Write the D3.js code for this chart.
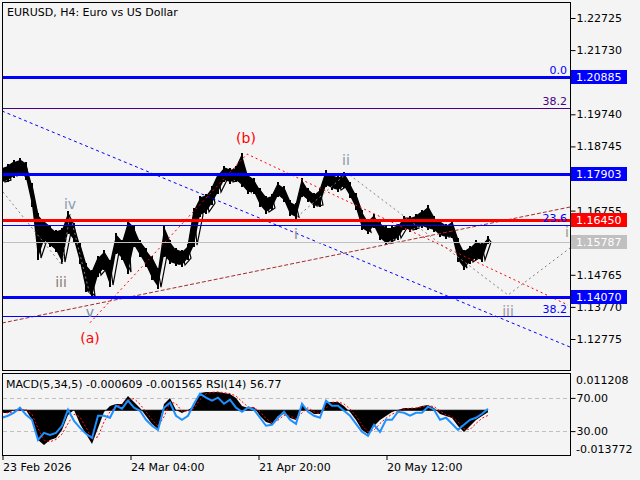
<!DOCTYPE html>
<html>
<head>
<meta charset="utf-8">
<script src="https://cdn.jsdelivr.net/npm/d3@7"></script>
<style>
    body { margin: 0; background: #f4f4f4; }
    svg { display: block; font-family: "DejaVu Sans", sans-serif; }
</style>
</head>
<body>
<svg id="chart" width="640" height="480"></svg>
<script>
const title = 'EURUSD, H4:  Euro vs US Dollar';
const indTitle = 'MACD(5,34,5) -0.000609 -0.001565 RSI(14) 56.77';

// one sample every 6 H4 bars
const step = 6;
const highs = [
    1.18075, 1.18137, 1.18261, 1.18323, 1.18199, 1.17548, 1.16618, 1.16401, 1.16246, 1.16091,
    1.16153, 1.16680, 1.16308, 1.15688, 1.15068, 1.14851, 1.15285, 1.15471, 1.15161, 1.15998,
    1.15781, 1.16401, 1.16215, 1.15781, 1.15533, 1.15285, 1.14913, 1.16215, 1.15781, 1.15533,
    1.15471, 1.15657, 1.16773, 1.17145, 1.17207, 1.17455, 1.17858, 1.18075, 1.18013, 1.18075,
    1.18478, 1.17827, 1.17703, 1.17393, 1.17145, 1.17207, 1.17579, 1.17455, 1.17021, 1.16928,
    1.17703, 1.17393, 1.17238, 1.17393, 1.17951, 1.17827, 1.17765, 1.17889, 1.17579, 1.17238,
    1.16711, 1.16401, 1.16587, 1.16339, 1.16215, 1.16215, 1.16277, 1.16525, 1.16525, 1.16587,
    1.16711, 1.16866, 1.16525, 1.16401, 1.16277, 1.16401, 1.15843, 1.15471, 1.15595, 1.15781,
    1.15688, 1.15905];
const lows = [
    1.17641, 1.17703, 1.17827, 1.17951, 1.17765, 1.16928, 1.15285, 1.15843, 1.15688, 1.15533,
    1.15161, 1.16091, 1.15843, 1.15161, 1.14293, 1.14107, 1.14758, 1.14975, 1.14448, 1.15471,
    1.15285, 1.14851, 1.15688, 1.15378, 1.15068, 1.14665, 1.14386, 1.15378, 1.15161, 1.15099,
    1.15068, 1.15285, 1.15688, 1.16618, 1.16711, 1.16990, 1.17331, 1.17703, 1.17641, 1.17703,
    1.17548, 1.17331, 1.17331, 1.16928, 1.16711, 1.16835, 1.17238, 1.17083, 1.16649, 1.16556,
    1.17238, 1.17083, 1.16897, 1.16928, 1.17548, 1.17455, 1.17393, 1.17517, 1.17207, 1.16835,
    1.16215, 1.16091, 1.16277, 1.15905, 1.15750, 1.15843, 1.15905, 1.16215, 1.16153, 1.16215,
    1.16277, 1.16215, 1.16153, 1.15998, 1.15936, 1.15967, 1.15223, 1.14975, 1.15161, 1.15285,
    1.15223, 1.15781];
const macd = [
    -0.00083, -0.00083, 0.00007, 0.00037, 0.00007, -0.00294, -0.00896, -0.01046, -0.00896, -0.00835,
    -0.00595, -0.00143, 0.00007, -0.00414, -0.00715, -0.01016, -0.00534, -0.00053, 0.00128, 0.00188,
    0.00188, 0.00429, 0.00248, 0.00067, -0.00174, -0.00414, -0.00565, 0.00188, 0.00368, 0.00007,
    -0.00083, 0.00007, 0.00128, 0.00519, 0.00549, 0.00549, 0.00549, 0.00519, 0.00489, 0.00368,
    0.00128, 0.00067, 0.00098, -0.00174, -0.00354, -0.00414, -0.00174, -0.00113, -0.00234, -0.00294,
    0.00158, 0.00007, -0.00113, -0.00113, 0.00248, 0.00248, 0.00248, 0.00128, -0.00053, -0.00294,
    -0.00595, -0.00715, -0.00474, -0.00294, -0.00174, -0.00053, 0.00007, 0.00067, 0.00067, 0.00067,
    0.00128, 0.00158, 0.00067, -0.00113, -0.00174, -0.00234, -0.00474, -0.00655, -0.00474, -0.00294,
    -0.00174, -0.000609];
const signal = [
    -0.0006, -0.0008, -0.0004, 0.0000, 0.0002, -0.0012, -0.0055, -0.0090, -0.0095, -0.0088,
    -0.0072, -0.0040, -0.0012, -0.0020, -0.0052, -0.0085, -0.0080, -0.0035, -0.0005, 0.0012,
    0.0018, 0.0030, 0.0035, 0.0018, -0.0005, -0.0028, -0.0048, -0.0020, 0.0025, 0.0020,
    -0.0003, -0.0003, 0.0006, 0.0032, 0.0050, 0.0054, 0.0055, 0.0053, 0.0050, 0.0043,
    0.0026, 0.0010, 0.0008, -0.0004, -0.0025, -0.0038, -0.0030, -0.0015, -0.0018, -0.0026,
    -0.0008, 0.0008, -0.0005, -0.0011, 0.0006, 0.0024, 0.0025, 0.0019, 0.0004, -0.0017,
    -0.0045, -0.0065, -0.0060, -0.0040, -0.0024, -0.0012, -0.0003, 0.0004, 0.0006, 0.0007,
    0.0010, 0.0014, 0.0011, -0.0002, -0.0014, -0.0020, -0.0035, -0.0056, -0.0058, -0.0040,
    -0.0024, -0.001565];
const rsi = [
    46.1, 48.5, 52.1, 58.2, 49.7, 43.6, 19.4, 27.9, 25.5, 27.9,
    36.4, 55.8, 42.4, 33.9, 26.7, 21.8, 48.5, 48.5, 46.1, 60.6,
    57.0, 66.7, 58.2, 54.5, 43.6, 36.4, 31.5, 58.2, 64.2, 48.5,
    43.6, 48.5, 63.0, 75.2, 70.3, 66.7, 70.3, 63.0, 67.9, 58.2,
    53.3, 58.2, 55.8, 46.1, 36.4, 37.6, 46.1, 53.3, 43.6, 38.8,
    63.0, 53.3, 48.5, 46.1, 66.7, 60.6, 60.6, 54.5, 48.5, 38.8,
    29.1, 24.2, 37.6, 29.1, 43.6, 43.6, 53.3, 52.1, 48.5, 52.1,
    52.1, 59.4, 55.8, 43.6, 46.1, 38.8, 31.5, 37.6, 43.6, 46.1,
    50.9, 56.77];

const priceTicks = [1.22725, 1.21730, 1.20735, 1.19740, 1.18745, 1.17750, 1.16755, 1.15760, 1.14765, 1.13770, 1.12775];
// ticks whose label sits under a price box
const hiddenTicks = [1.20735, 1.17750, 1.15760];
const timeTicks = [0, 128, 256, 384];
const timeLabels = ['23 Feb 2026', '24 Mar 04:00', '21 Apr 20:00', '20 May 12:00'];
const rsiLevels = [70, 30];
const macdRange = [-0.013772, 0.011208];

// horizontal levels
const blueLevels = [1.20885, 1.17903, 1.14070];
const redLevels = [1.16450];
const lastPrice = 1.15787;
const fibTop = [1.20885, 1.19940];
const fibTopLabels = ['0.0', '38.2'];
const fibLow = [1.16299, 1.13478];
const fibLowLabels = ['23.6', '38.2'];

// trend lines as [bar, price]
const channelLine = [[0, 1.19842], [568, 1.12526]];
const supportLine = [[0, 1.13270], [568, 1.16866]];
const abLine = [[88, 1.13280], [245, 1.18509], [566, 1.13828]];
const waveOld = [[1, 1.17331], [60, 1.15068], [68, 1.16649], [88, 1.14138]];
const waveNew = [[295, 1.16556], [345, 1.17920], [506, 1.14138], [568, 1.15595]];

const waveText = ['iii', 'iv', 'v', 'i', 'ii', 'iii', 'i'];
const waveAt = [[59, 1.14386], [68, 1.16804], [88, 1.13456], [294, 1.15874], [344, 1.18168], [506, 1.13487], [565, 1.15936]];
const abText = ['(a)', '(b)'];
const abAt = [[88, 1.12650], [244, 1.18850]];

const svg = d3.select('#chart');
const bg = '#f4f4f4';

const x = d3.scaleLinear().domain([0, 568]).range([2, 570]);
const y = d3.scaleLinear().domain([1.12775, 1.22725]).range([339, 18]);
const yM = d3.scaleLinear().domain(macdRange).range([456, 373]);
const yR = d3.scaleLinear().domain([0, 100]).range([456, 373]);

svg.append('rect').attr('width', 640).attr('height', 480).attr('fill', bg);

svg.append('clipPath').attr('id', 'main-clip')
    .append('rect').attr('x', 3).attr('y', 3).attr('width', 567).attr('height', 367);
const main = svg.append('g').attr('clip-path', 'url(#main-clip)');

// price bars: hi-lo band plus a jagged stroke through it
const sx = k => x(k * step);
main.append('path')
    .attr('fill', '#000')
    .attr('d', d3.area().x((d, k) => sx(k)).y0((d, k) => y(lows[k])).y1(d => y(d))(highs));
main.append('path')
    .attr('fill', 'none')
    .attr('stroke', '#000')
    .attr('stroke-width', 2)
    .attr('d', highs.map((h, k) => `M${sx(k)},${y(h) - 2}V${y(lows[k]) + 2}`).join(''));

const zig = [];
highs.forEach((h, k) => {
    const a = [k * step, h], b = [k * step + 3, lows[k]];
    if (k % 2) zig.push(b, a); else zig.push(a, b);
});
main.append('path')
    .attr('fill', 'none')
    .attr('stroke', '#000')
    .attr('stroke-width', 1.2)
    .attr('d', d3.line().x(d => x(d[0])).y(d => y(d[1]))(zig));

// trend lines
const tl = d3.line().x(d => x(d[0])).y(d => y(d[1]));
const trend = (pts, color, dash) => main.append('path')
    .attr('fill', 'none')
    .attr('stroke', color)
    .attr('stroke-width', 1)
    .attr('stroke-dasharray', dash)
    .attr('d', tl(pts));
trend(channelLine, '#0000ff', '3,3');
trend(supportLine, '#a52a2a', '4,2');
trend(abLine, '#ff0000', '2,3');
trend(waveOld, '#808080', '2,3');
trend(waveNew, '#808080', '2,3');

// horizontal levels
const hline = (p, color, w) => main.append('line')
    .attr('x1', 2).attr('x2', 570)
    .attr('y1', Math.round(y(p)) + (w % 2 ? 0.5 : 0))
    .attr('y2', Math.round(y(p)) + (w % 2 ? 0.5 : 0))
    .attr('stroke', color)
    .attr('stroke-width', w);
hline(lastPrice, '#c0c0c0', 1);
hline(fibTop[1], '#4b0082', 1);
fibLow.forEach(p => hline(p, '#0000ff', 1));
redLevels.forEach(p => hline(p, '#ff0000', 3));
blueLevels.forEach(p => hline(p, '#0000ff', 3));

// fib labels
const fibLabel = (p, t, color) => main.append('text')
    .attr('x', 567).attr('y', y(p) - 3)
    .attr('text-anchor', 'end')
    .attr('font-size', 11)
    .attr('fill', color)
    .text(t);
fibLabel(fibTop[0], fibTopLabels[0], '#0000ff');
fibLabel(fibTop[1], fibTopLabels[1], '#4b0082');
fibLow.forEach((p, i) => fibLabel(p, fibLowLabels[i], '#0000ff'));

// wave labels
const waveColors = ['#8c7a74', '#8a9cb0', '#7a8aa8', '#8a8a96', '#8a9aaa', '#9a9aa6', '#9a9a8a'];
waveText.forEach((t, i) => main.append('text')
    .attr('x', x(waveAt[i][0])).attr('y', y(waveAt[i][1]))
    .attr('text-anchor', 'middle')
    .attr('font-size', 14)
    .attr('fill', waveColors[i])
    .text(t));
abText.forEach((t, i) => main.append('text')
    .attr('x', x(abAt[i][0])).attr('y', y(abAt[i][1]))
    .attr('text-anchor', 'middle')
    .attr('font-size', 14)
    .attr('fill', '#ff0000')
    .text(t));

// MACD + RSI panel
const ind = svg.append('g');
rsiLevels.forEach(v => ind.append('line')
    .attr('x1', 3).attr('x2', 570)
    .attr('y1', Math.round(yR(v)) + 0.5).attr('y2', Math.round(yR(v)) + 0.5)
    .attr('stroke', '#c0c0c0')
    .attr('stroke-dasharray', '4,3'));

ind.append('path')
    .attr('fill', '#000')
    .attr('d', d3.area().x((d, k) => sx(k)).y0(yM(0)).y1(d => yM(d))(macd));
ind.append('line')
    .attr('x1', sx(0)).attr('x2', sx(macd.length - 1))
    .attr('y1', yM(0)).attr('y2', yM(0))
    .attr('stroke', '#000');
ind.append('path')
    .attr('fill', 'none')
    .attr('stroke', '#ff0000')
    .attr('stroke-dasharray', '2,2')
    .attr('d', d3.line().x((d, k) => sx(k)).y(d => yM(d))(signal));
ind.append('path')
    .attr('fill', 'none')
    .attr('stroke', '#1e90ff')
    .attr('stroke-width', 2)
    .attr('d', d3.line().x((d, k) => sx(k)).y(d => yR(d))(rsi));

// frames
svg.append('rect').attr('x', 2.5).attr('y', 2.5).attr('width', 568).attr('height', 368)
    .attr('fill', 'none').attr('stroke', '#000');
svg.append('rect').attr('x', 2.5).attr('y', 373.5).attr('width', 568).attr('height', 82)
    .attr('fill', 'none').attr('stroke', '#000');

// axes
const styleAxis = g => {
    g.attr('font-family', null).attr('font-size', null);
    g.select('.domain').remove();
    g.selectAll('.tick line').attr('stroke', '#000');
    g.selectAll('.tick text').attr('fill', '#000').attr('font-size', 11);
};
svg.append('g')
    .attr('transform', 'translate(570.5,0)')
    .call(d3.axisRight(y).tickValues(priceTicks).tickSize(5).tickPadding(1)
        .tickFormat(d => hiddenTicks.includes(d) ? '' : d3.format('.5f')(d)))
    .call(styleAxis);
svg.append('g')
    .attr('transform', 'translate(570.5,0)')
    .call(d3.axisRight(yR).tickValues(rsiLevels).tickSize(5).tickPadding(1).tickFormat(d3.format('.2f')))
    .call(styleAxis);
[macdRange[1], macdRange[0]].forEach((v, i) => svg.append('text')
    .attr('x', 576).attr('y', yM(v) + (i ? -7 : 7))
    .attr('dy', '0.35em')
    .attr('font-size', 11)
    .text(d3.format('.6f')(v).replace('\u2212', '-')));
svg.append('g')
    .attr('transform', 'translate(0,456)')
    .call(d3.axisBottom(x).tickValues(timeTicks).tickSize(4).tickFormat((d, i) => timeLabels[i]))
    .call(styleAxis)
    .call(g => g.selectAll('.tick text').attr('text-anchor', 'start').attr('x', 0.5))
    .call(g => g.selectAll('.tick line').attr('x1', 0.5).attr('x2', 0.5));

// price boxes on the axis
const boxes = [
    [blueLevels[0], '#0000ff'], [blueLevels[1], '#0000ff'], [redLevels[0], '#ff0000'],
    [lastPrice, '#c0c0c0'], [blueLevels[2], '#0000ff'],
];
boxes.forEach(([p, c]) => {
    const yy = Math.round(y(p));
    svg.append('rect').attr('x', 571).attr('y', yy - 7).attr('width', 56).attr('height', 14).attr('fill', c);
    svg.append('text').attr('x', 576).attr('y', yy).attr('dy', '0.36em')
        .attr('font-size', 11).attr('fill', '#fff').text(d3.format('.5f')(p));
});

// titles
svg.append('text').attr('x', 7).attr('y', 16).attr('font-size', 11).text(title);
svg.append('text').attr('x', 6).attr('y', 388).attr('font-size', 11).text(indTitle);
</script>
</body>
</html>
